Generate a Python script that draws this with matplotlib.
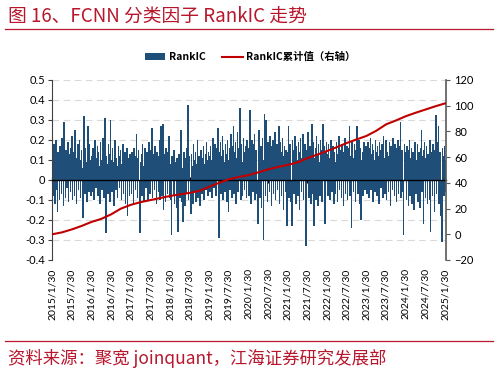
import matplotlib
matplotlib.use("Agg")
import matplotlib.pyplot as plt
import matplotlib.dates as mdates
import numpy as np
import datetime as dt

# ---------------- data ----------------
ic_2015 = [0.15, -0.08, 0.12, 0.18, -0.12, 0.10, 0.20, -0.05, -0.16, 0.14, 0.08, -0.10, 0.17, 0.11, -0.07, 0.21, 0.06, -0.13, 0.29, 0.12,
           -0.09, 0.15, 0.10, -0.04, 0.19, -0.11, 0.13, 0.08, -0.06, 0.16, 0.22, -0.10, 0.09, 0.14, -0.08, 0.25, 0.11, -0.12, 0.07, 0.18,
           -0.05, 0.13, 0.20, -0.09, 0.10, 0.15, 0.06, -0.19, 0.12, 0.32, -0.07, 0.16, 0.09, -0.11, 0.14, 0.27, -0.06, 0.18, 0.10, -0.08]
ic_2016 = [0.12, -0.06, 0.16, 0.09, -0.10, 0.20, 0.13, -0.04, 0.11, 0.17, -0.08, 0.14, 0.07, -0.12, 0.19, 0.10, -0.05, 0.15, 0.21, -0.09,
           0.30, 0.31, -0.265, 0.12, 0.08, -0.07, 0.18, 0.13, -0.11, 0.30, 0.10, -0.06, 0.16, 0.09, -0.13, 0.14, 0.20, -0.05, 0.11, 0.07,
           -0.09, 0.17, 0.12, -0.04, 0.15, 0.08, -0.10, 0.13, 0.18, -0.07, 0.10, 0.14, -0.12, 0.09, 0.16, -0.18, 0.11, 0.06, -0.08, 0.13]
ic_2017 = [0.10, -0.07, 0.14, 0.08, -0.12, 0.16, 0.06, -0.05, 0.12, 0.23, -0.09, 0.11, 0.15, -0.06, -0.265, 0.09, 0.13, -0.08, 0.18, 0.07,
           -0.11, 0.12, 0.16, -0.04, 0.10, 0.14, -0.10, 0.08, 0.19, -0.07, 0.11, 0.15, 0.26, -0.09, 0.10, 0.13, -0.05, 0.17, 0.09, -0.12,
           0.14, 0.08, -0.06, 0.12, 0.20, -0.10, 0.27, 0.11, -0.08, 0.28, -0.15, 0.13, 0.09, -0.11, 0.16, 0.10, -0.07, 0.14, 0.22, -0.09]
ic_2018 = [0.08, -0.10, -0.275, 0.12, 0.06, -0.08, 0.15, -0.12, 0.09, 0.05, -0.14, 0.11, -0.26, 0.07, 0.13, -0.09, 0.10, 0.25, -0.11, 0.06,
           -0.21, 0.14, 0.08, -0.13, 0.11, -0.07, 0.16, 0.375, -0.10, 0.09, 0.12, -0.08, -0.17, 0.13, 0.07, -0.12, 0.18, 0.10, -0.06, 0.14,
           -0.11, 0.08, 0.20, -0.09, 0.12, 0.06, -0.13, 0.15, 0.09, -0.07, 0.11, 0.17, -0.10, 0.08, 0.13, -0.05, 0.19, 0.10, -0.08, 0.14]
ic_2019 = [0.12, -0.06, 0.17, 0.10, -0.09, 0.15, 0.21, -0.04, 0.13, 0.18, -0.08, 0.11, 0.16, 0.26, -0.05, -0.29, 0.14, 0.19, -0.07, 0.12,
           0.22, -0.10, 0.15, 0.09, -0.06, 0.18, 0.13, -0.11, 0.20, -0.16, 0.10, 0.16, -0.05, 0.23, 0.12, -0.09, 0.17, 0.27, -0.07, 0.14,
           0.19, -0.12, 0.11, 0.24, -0.06, 0.16, 0.13, 0.36, -0.10, 0.18, 0.09, -0.08, 0.21, 0.14, -0.05, 0.17, 0.11, -0.09, 0.20, 0.15]
ic_2020 = [0.16, -0.08, 0.35, 0.14, -0.12, 0.20, 0.11, -0.06, 0.18, 0.23, -0.10, 0.15, 0.12, -0.07, -0.22, 0.19, 0.25, -0.09, 0.13, 0.17,
           -0.14, 0.21, 0.10, -0.30, 0.33, 0.16, -0.08, 0.30, 0.12, -0.11, 0.19, 0.14, -0.06, 0.22, 0.17, -0.13, 0.11, 0.20, -0.07, 0.15,
           0.24, -0.10, 0.13, 0.18, -0.05, 0.16, 0.27, -0.12, 0.10, 0.19, -0.08, 0.14, 0.21, -0.15, 0.12, 0.17, -0.06, 0.15, 0.11, -0.23]
ic_2021 = [0.14, 0.27, -0.09, 0.18, 0.12, -0.11, -0.23, 0.20, 0.15, -0.07, 0.13, 0.22, -0.12, 0.17, 0.10, -0.08, 0.19, 0.14, -0.15, 0.21,
           0.11, -0.06, 0.16, 0.23, -0.10, 0.13, 0.18, -0.14, -0.33, 0.15, 0.20, 0.24, -0.09, 0.12, 0.17, -0.12, 0.14, 0.28, -0.07, 0.19,
           -0.23, 0.11, 0.16, -0.10, 0.22, 0.13, -0.13, 0.18, 0.09, -0.08, 0.20, 0.15, -0.11, 0.12, 0.28, 0.17, -0.09, -0.22, 0.14, 0.19]
ic_2022 = [0.13, -0.08, 0.18, 0.11, -0.10, 0.15, 0.20, -0.06, 0.12, 0.17, -0.12, 0.14, 0.09, -0.07, 0.19, 0.13, -0.11, 0.16, 0.22, -0.05,
           0.11, 0.15, -0.09, 0.18, 0.12, -0.13, 0.14, 0.21, -0.07, 0.10, 0.17, -0.10, 0.13, 0.16, 0.27, -0.08, 0.12, -0.24, 0.19, 0.14,
           -0.06, 0.11, 0.18, -0.11, 0.15, 0.09, 0.27, -0.07, 0.13, 0.20, -0.12, 0.16, -0.20, 0.10, 0.14, -0.08, 0.19, 0.12, -0.05, 0.17]
ic_2023 = [0.14, -0.07, 0.19, 0.12, -0.09, 0.16, 0.21, -0.05, 0.13, 0.18, -0.11, 0.15, 0.10, -0.06, 0.20, 0.14, -0.08, 0.17, 0.12, -0.12,
           0.19, 0.15, -0.04, 0.13, 0.18, -0.09, 0.22, 0.11, -0.07, 0.16, 0.20, -0.10, 0.14, 0.12, -0.06, 0.19, 0.15, -0.13, 0.17, 0.11,
           -0.05, 0.21, 0.14, -0.08, 0.18, 0.12, -0.11, 0.16, 0.20, -0.07, 0.13, 0.17, 0.29, -0.09, 0.15, 0.11, -0.06, -0.275, 0.18, 0.14]
ic_2024 = [0.12, -0.10, 0.17, 0.09, -0.13, 0.15, 0.20, -0.08, 0.11, 0.16, -0.12, 0.14, 0.08, -0.15, 0.19, 0.13, -0.07, 0.10, 0.18, -0.11,
           0.14, 0.09, -0.14, 0.16, 0.25, -0.06, 0.12, -0.22, 0.15, 0.19, -0.09, 0.11, 0.17, -0.12, 0.13, 0.08, -0.10, 0.20, -0.26, 0.14,
           0.10, -0.08, 0.18, 0.12, -0.16, 0.15, 0.325, -0.07, 0.11, 0.19, 0.27, -0.12, 0.14, 0.09, -0.18, -0.31, 0.16, 0.12, -0.08, 0.17]
ic_2025 = [0.10, -0.06, 0.14]

# cumulative RankIC (right axis), quarterly readings from 2015/1/30
cum_ic = [0, 1.5, 3.8, 6.5, 9.6, 12, 15.5, 20, 22.9, 25, 26.6, 28.2, 29.8, 31, 32.2, 33.8, 37, 40, 42.8, 44.6,
          46, 48.2, 50.5, 52.4, 54, 56, 59.2, 62, 64.8, 67.8, 71, 73.8, 76.5, 80.5, 85.5, 88.5, 91.8, 94.5, 97, 99.5, 101.8]

tick_labels = ['2015/1/30', '2015/7/30', '2016/1/30', '2016/7/30', '2017/1/30', '2017/7/30', '2018/1/30',
               '2018/7/30', '2019/1/30', '2019/7/30', '2020/1/30', '2020/7/30', '2021/1/30', '2021/7/30',
               '2022/1/30', '2022/7/30', '2023/1/30', '2023/7/30', '2024/1/30', '2024/7/30', '2025/1/30']

yearly = [ic_2015, ic_2016, ic_2017, ic_2018, ic_2019, ic_2020, ic_2021, ic_2022, ic_2023, ic_2024]

# ---------------- positions ----------------
xs, ys = [], []
for k, arr in enumerate(yearly):
    a = mdates.date2num(dt.date(2015 + k, 1, 30))
    b = mdates.date2num(dt.date(2016 + k, 1, 30))
    xs.extend(np.linspace(a, b, len(arr), endpoint=False))
    ys.extend(arr)
a25 = mdates.date2num(dt.date(2025, 1, 30))
xs.extend(a25 + np.arange(len(ic_2025)) * 365.25 / 60)
ys.extend(ic_2025)
xs = np.array(xs); ys = np.array(ys)
spacing = 365.25 / 60

start = mdates.date2num(dt.date(2015, 1, 30))
cum_x = start + np.arange(len(cum_ic)) * 365.25 / 4

tick_pos = [mdates.date2num(dt.datetime.strptime(t, '%Y/%m/%d')) for t in tick_labels]

# ---------------- figure ----------------
W, H = 498, 372
fig = plt.figure(figsize=(W / 100, H / 100), dpi=100)
fig.patch.set_facecolor('white')

red = '#B8162C'
cjk = ['Noto Sans CJK SC', 'DejaVu Sans']
num = ['Lato', 'Noto Sans CJK SC']

fig.text(8 / W, 1 - 16 / H, '图 16、FCNN 分类因子 RankIC 走势', fontsize=13.5, color=red,
         family=cjk, va='center', ha='left')
fig.add_artist(plt.Line2D([5 / W, 493 / W], [1 - 29 / H, 1 - 29 / H], color=red, lw=0.9))
fig.add_artist(plt.Line2D([5 / W, 493 / W], [1 - 341 / H, 1 - 341 / H], color=red, lw=0.9))
fig.text(8 / W, 1 - 358 / H, '资料来源：聚宽 joinquant，江海证券研究发展部', fontsize=12.5, color=red,
         family=cjk, va='center', ha='left')

ax = fig.add_axes([52 / W, 1 - 260 / H, (446 - 52) / W, 180 / H])
ax2 = ax.twinx()

ax.bar(xs, ys, width=spacing * 2.4, color='#1F4E79', linewidth=0, align='center', zorder=2,
       label='RankIC')
ax2.plot(cum_x, cum_ic, color='#C00000', lw=1.5, zorder=3, label='RankIC累计值（右轴）')

ax.set_ylim(-0.4, 0.5)
ax.set_yticks(np.round(np.arange(-0.4, 0.51, 0.1), 1))
ax.set_yticklabels(['-0.4', '-0.3', '-0.2', '-0.1', '0', '0.1', '0.2', '0.3', '0.4', '0.5'])
ax2.set_ylim(-20, 120)
ax2.set_yticks(np.arange(-20, 121, 20))

ax.set_xlim(mdates.date2num(dt.date(2015, 1, 28)), mdates.date2num(dt.date(2025, 2, 8)))

ax.grid(axis='y', color='#D9D9D9', linestyle=(0, (6, 4)), lw=0.8, zorder=0)
ax.set_axisbelow(True)

for s in ['top']:
    ax.spines[s].set_visible(False)
    ax2.spines[s].set_visible(False)
ax2.spines['left'].set_visible(False)
ax2.spines['bottom'].set_visible(False)
ax.spines['right'].set_visible(False)
ax.spines['left'].set_color('#404040')
ax2.spines['right'].set_color('#595959')
ax2.spines['right'].set_linewidth(1.2)
ax.spines['bottom'].set_position(('data', 0))
ax.spines['bottom'].set_color('black')
ax.spines['bottom'].set_linewidth(1.0)
ax.spines['bottom'].set_zorder(4)

ax.set_xticks(tick_pos)
ax.tick_params(axis='x', labelbottom=False, length=4, direction='inout', color='black')
ax.tick_params(axis='y', length=3, direction='out', labelsize=8, color='#404040', pad=2)
ax2.tick_params(axis='y', length=3, direction='out', labelsize=8, color='#595959', pad=3)
for lab in ax.get_yticklabels() + ax2.get_yticklabels():
    lab.set_family(num)

sec = ax.secondary_xaxis(0)
sec.set_xticks(tick_pos)
sec.set_xticklabels(tick_labels, rotation=90, fontsize=7.5, family=num)
sec.tick_params(length=0, pad=6)
sec.spines['bottom'].set_visible(False)

h1, l1 = ax.get_legend_handles_labels()
h2, l2 = ax2.get_legend_handles_labels()
leg = fig.legend(h1 + h2, l1 + l2, loc='center', bbox_to_anchor=(250 / W, 1 - 57 / H), ncol=2,
                 frameon=False, prop={'family': cjk, 'size': 7.5, 'weight': 'bold'},
                 handlelength=2.0, handleheight=0.6, columnspacing=1.6, handletextpad=0.3)

fig.savefig('out.png', dpi=100, facecolor='white')
